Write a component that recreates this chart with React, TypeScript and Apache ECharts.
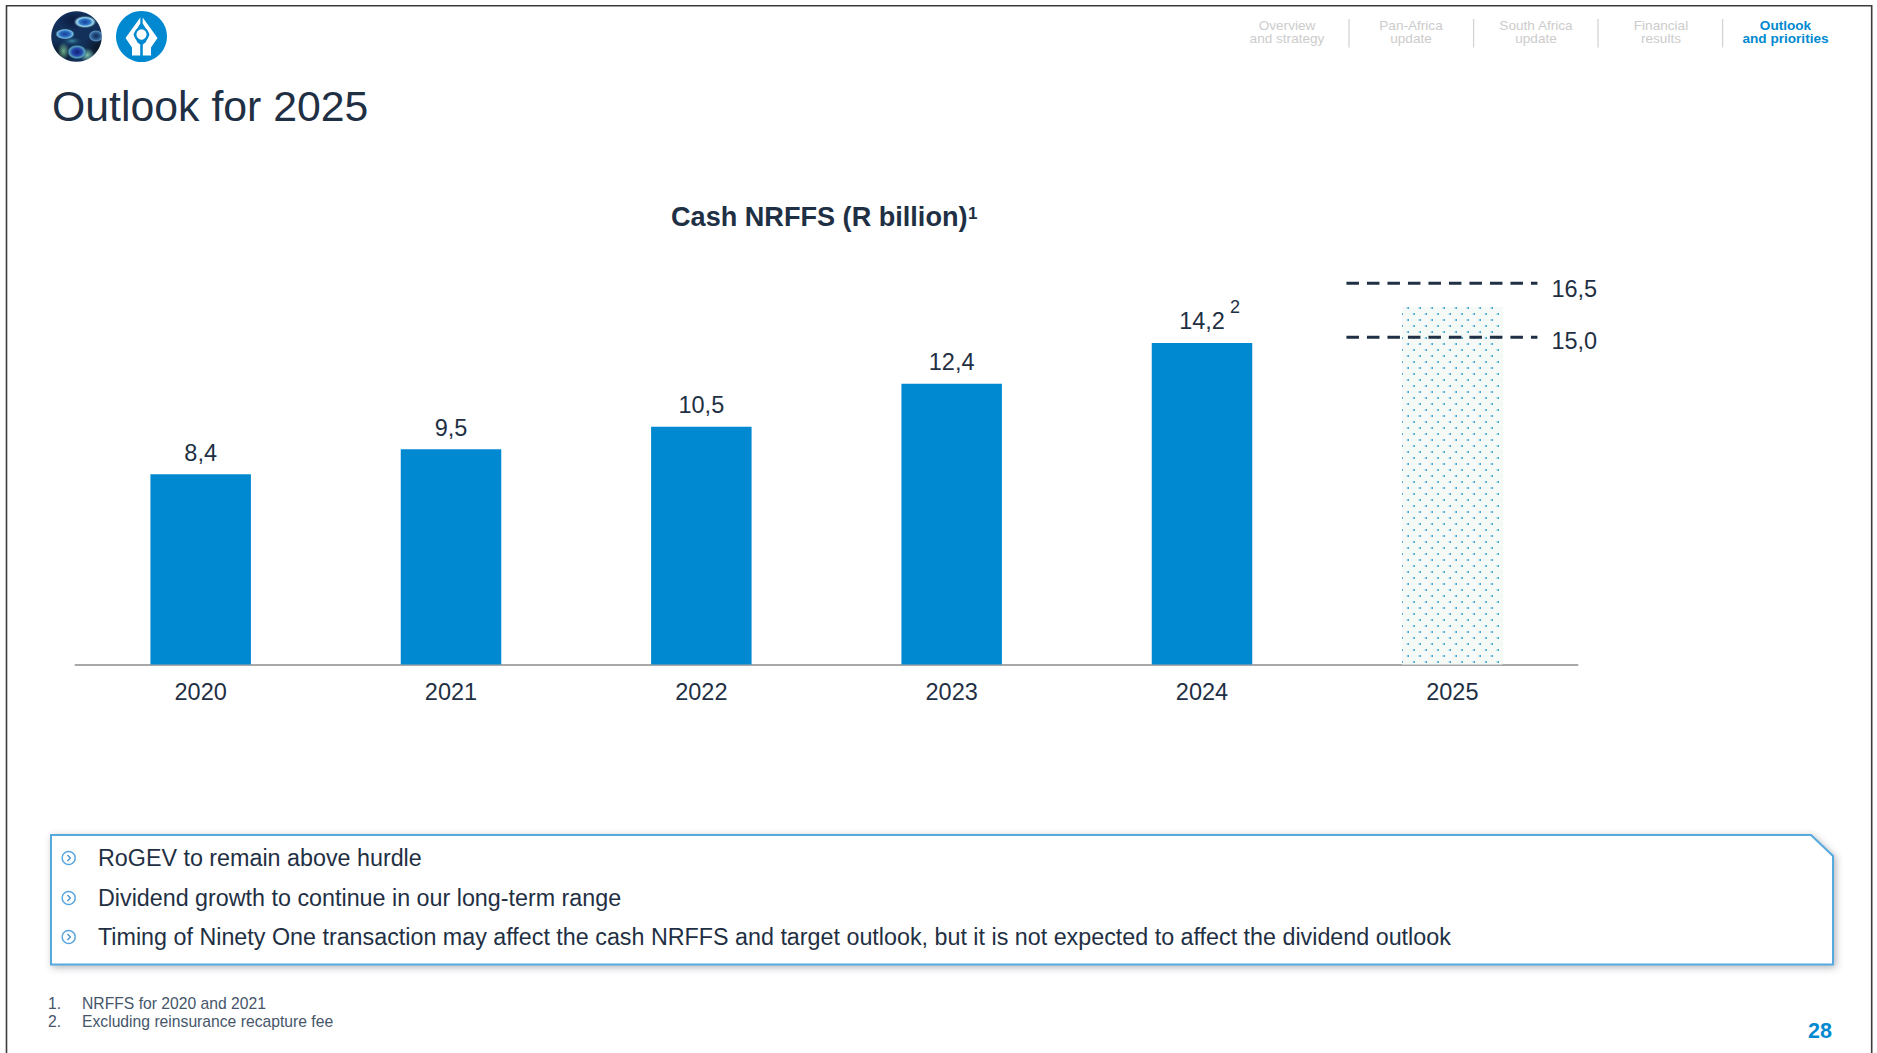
import React, { useEffect, useRef } from "react";
import * as echarts from "echarts";

const FONT = '"Liberation Sans", Arial, sans-serif';
const INK = "#1f3044";
const BLUE = "#0089d0";

const years = ["2020", "2021", "2022", "2023", "2024", "2025"];
const cashNrffs = [8.4, 9.5, 10.5, 12.4, 14.2];
const outlookBarTop = 15.8;
const targetLow = 15.0;
const targetHigh = 16.5;
const targetSpan = [5.077, 5.84];

const navItems = [
  ["Overview", "and strategy"],
  ["Pan-Africa", "update"],
  ["South Africa", "update"],
  ["Financial", "results"],
  ["Outlook", "and priorities"],
];
const navCentres = [1287, 1411, 1536, 1661, 1785.5];
const navDividers = [1349, 1473.6, 1598, 1722.6];

const bullets = [
  "RoGEV to remain above hurdle",
  "Dividend growth to continue in our long-term range",
  "Timing of Ninety One transaction may affect the cash NRFFS and target outlook, but it is not expected to affect the dividend outlook",
];
const bulletRows = [858, 898, 937];
const footnotes = ["NRFFS for 2020 and 2021", "Excluding reinsurance recapture fee"];

const fmt = (v: number) => v.toFixed(1).replace(".", ",");

// Staggered dot tile for the outlook bar.
function dotTile() {
  const c = document.createElement("canvas");
  c.width = 12;
  c.height = 12;
  const g = c.getContext("2d")!;
  g.fillStyle = "#f6faf7";
  g.fillRect(0, 0, 12, 12);
  const dot = (x: number, y: number) => {
    g.fillStyle = "#d5ebf3";
    g.fillRect(x - 1, y, 1, 2);
    g.fillStyle = "#8cc9e2";
    g.fillRect(x, y, 1, 2);
    g.fillStyle = "#45a6d0";
    g.fillRect(x + 1, y, 1, 2);
  };
  dot(3, 7);
  dot(9, 1);
  return c.toDataURL();
}

// Soft peacock-feather roundel for the first emblem.
function featherRoundel() {
  const size = 102;
  const c = document.createElement("canvas");
  c.width = size;
  c.height = size;
  const g = c.getContext("2d")!;
  g.beginPath();
  g.arc(51, 51, 50.5, 0, Math.PI * 2);
  g.clip();
  g.fillStyle = "#12305a";
  g.fillRect(0, 0, size, size);
  const blob = (x: number, y: number, rx: number, ry: number, stops: [number, string][]) => {
    g.save();
    g.translate(x, y);
    g.scale(rx, ry);
    const r = g.createRadialGradient(0, 0, 0, 0, 0, 1);
    stops.forEach(([o, col]) => r.addColorStop(o, col));
    g.fillStyle = r;
    g.beginPath();
    g.arc(0, 0, 1, 0, Math.PI * 2);
    g.fill();
    g.restore();
  };
  const fade = "rgba(20,50,90,0)";
  blob(10, 90, 40, 30, [[0, "#0a1420"], [1, "rgba(10,20,32,0)"]]);
  blob(95, 75, 30, 35, [[0, "#0c1826"], [1, "rgba(12,24,38,0)"]]);
  blob(45, 20, 30, 18, [[0, "#0d1c40"], [1, "rgba(13,28,64,0)"]]);
  blob(25, 80, 12, 18, [[0, "#6fae8c"], [1, "rgba(111,174,140,0)"]]);
  blob(72, 88, 16, 14, [[0, "#7fc4b0"], [1, "rgba(127,196,176,0)"]]);
  blob(42, 60, 22, 10, [[0, "#3d8fa8"], [1, fade]]);
  // Feather eyes: dark core, bright ring.
  blob(68, 22, 24, 13, [[0, "#1a3f9a"], [0.45, "#2f78c8"], [0.7, "#a5e0f0"], [1, fade]]);
  blob(28, 46, 20, 11, [[0, "#1a3f9a"], [0.5, "#2b6cc0"], [0.8, "#7cc4e6"], [1, fade]]);
  blob(90, 50, 15, 12, [[0, "#112a55"], [0.6, "#2e5f96"], [0.85, "#5c92bf"], [1, fade]]);
  blob(52, 82, 20, 15, [[0, "#10206e"], [0.5, "#2748b0"], [0.8, "#58a8c0"], [1, fade]]);
  return c.toDataURL();
}

const NIB =
  "M-1.2 -19 L-1.2 -13 L-8 -2 L-4 6 L-1.3 8 L-1.3 19 L-9.5 19 L-9.5 11 L-16 1.5 Z " +
  "M1.2 -19 L1.2 -13 L8 -2 L4 6 L1.3 8 L1.3 19 L9.5 19 L9.5 11 L16 1.5 Z";
echarts.graphic.registerShape("nibMark", echarts.graphic.extendPath(NIB, {}) as any);

function text(x: number, y: number, t: string, fontSize: number, fill: string, extra: any = {}) {
  const { fontWeight, align, verticalAlign } = extra;
  return {
    type: "text", x, y, silent: true,
    style: {
      text: t, fontSize, fill, fontFamily: FONT,
      fontWeight: fontWeight || "normal",
      align: align || "left",
      verticalAlign: verticalAlign || "middle",
    },
  };
}

function decorations(): any[] {
  const out: any[] = [];
  // Slide frame, open at the bottom edge.
  out.push({
    type: "polyline", silent: true,
    shape: { points: [[6.5, 1053], [6.5, 5.7], [1871.7, 5.7], [1871.7, 1053]] },
    style: { stroke: "#3c3c3c", lineWidth: 1.6, fill: "none" },
  });
  // Feather emblem.
  out.push({
    type: "image", silent: true,
    style: { image: featherRoundel(), x: 51, y: 11, width: 51, height: 51 },
  });
  // Nib emblem.
  out.push({ type: "circle", silent: true, shape: { cx: 141.5, cy: 36.5, r: 25.5 }, style: { fill: BLUE } });
  out.push({ type: "nibMark", silent: true, x: 141.5, y: 36.5, style: { fill: "#fff" } });
  out.push({ type: "circle", silent: true, shape: { cx: 141.5, cy: 34.5, r: 6.2 }, style: { fill: "#fff", stroke: BLUE, lineWidth: 2.2 } });
  // Heading.
  out.push(text(52, 106, "Outlook for 2025", 42.8, INK));
  // Section navigation.
  navItems.forEach((lines, i) => {
    const active = i === navItems.length - 1;
    lines.forEach((l, j) =>
      out.push(text(navCentres[i], 25 + j * 13, l, 13.6, active ? BLUE : "#cccccc", { align: "center", fontWeight: active ? "bold" : "normal" }))
    );
  });
  navDividers.forEach((x) =>
    out.push({ type: "line", silent: true, shape: { x1: x, y1: 19, x2: x, y2: 47.5 }, style: { stroke: "#d4d4d4", lineWidth: 1.3 } })
  );
  // Footnote marks on the chart title and the 2024 value.
  out.push(text(968, 213, "1", 17, INK, { fontWeight: "bold" }));
  out.push(text(1230, 307, "2", 18, INK));
  // Callout box with its clipped corner.
  out.push({
    type: "polygon", silent: true,
    shape: { points: [[51, 835], [1811, 835], [1833, 856], [1833, 964.5], [51, 964.5]] },
    style: {
      fill: "#fff", stroke: "#55a9dd", lineWidth: 2,
      shadowBlur: 7, shadowColor: "rgba(60,70,80,0.4)", shadowOffsetX: 2, shadowOffsetY: 2,
    },
  });
  bullets.forEach((b, i) => {
    const y = bulletRows[i];
    out.push({ type: "circle", silent: true, shape: { cx: 68.7, cy: y, r: 6.5 }, style: { fill: "#fff", stroke: "#5aa6de", lineWidth: 1.4 } });
    out.push({ type: "polyline", silent: true, shape: { points: [[67.4, y - 3], [70.4, y], [67.4, y + 3]] }, style: { stroke: "#3f8fcb", lineWidth: 1.2, fill: "none" } });
    out.push(text(98, y, b, 23.3, INK));
  });
  // Footnotes and page number.
  footnotes.forEach((f, i) => {
    out.push(text(48, 1003 + i * 18, `${i + 1}.`, 15.7, "#46566a"));
    out.push(text(82, 1003 + i * 18, f, 15.7, "#46566a"));
  });
  out.push(text(1832, 1031, "28", 21.5, BLUE, { fontWeight: "bold", align: "right" }));
  return out;
}

export default function App() {
  const ref = useRef<HTMLDivElement>(null);
  useEffect(() => {
    document.body.style.margin = "0";
    const chart = echarts.init(ref.current!, undefined, { renderer: "svg" });
    const targetLine = (value: number) => ({
      type: "line",
      xAxisIndex: 1,
      yAxisIndex: 1,
      z: 5,
      symbol: "none",
      data: targetSpan.map((x) => [x, value]),
      lineStyle: { color: INK, width: 3, type: [12.5, 8] },
      endLabel: {
        show: true,
        formatter: () => fmt(value),
        fontFamily: FONT,
        fontSize: 23.5,
        color: INK,
        distance: 14,
        offset: [0, value === targetHigh ? 6 : 3.5],
      },
      silent: true,
    });
    chart.setOption({
      animation: false,
      backgroundColor: "#fff",
      title: {
        text: "Cash NRFFS (R billion)",
        left: 671,
        top: 203,
        textStyle: { fontFamily: FONT, fontWeight: "bold", fontSize: 27.1, color: INK },
        padding: 0,
      },
      grid: { left: 75.5, right: 1877 - 1577.5, top: 245.5, height: 419 },
      xAxis: [
        {
          type: "category",
          data: years,
          axisTick: { show: false },
          axisLine: { lineStyle: { color: "#a8a8a8", width: 2 } },
          axisLabel: { fontFamily: FONT, fontSize: 23.5, color: INK, margin: 15.5 },
        },
        { type: "value", min: 0, max: 6, show: false },
      ],
      yAxis: [
        { type: "value", min: 0, max: 18.5, show: false },
        // The guidance range sits on its own schematic scale.
        { type: "value", min: 5.91, max: 17.55, show: false },
      ],
      series: [
        {
          type: "bar",
          barWidth: 100.5,
          barGap: "-100%",
          data: cashNrffs,
          itemStyle: { color: BLUE },
          label: {
            show: true,
            position: "top",
            distance: 9.5,
            formatter: (p: any) => fmt(p.value),
            fontFamily: FONT,
            fontSize: 23.5,
            color: INK,
          },
        },
        {
          type: "bar",
          barWidth: 100.5,
          barGap: "-100%",
          data: [null, null, null, null, null, outlookBarTop],
          itemStyle: { color: { image: dotTile(), repeat: "repeat", imageWidth: 12, imageHeight: 12 } },
        },
        targetLine(targetHigh),
        targetLine(targetLow),
      ],
      graphic: decorations(),
    });
    return () => chart.dispose();
  }, []);
  return <div ref={ref} style={{ position: "absolute", left: 0, top: 0, width: 1877, height: 1053 }} />;
}
